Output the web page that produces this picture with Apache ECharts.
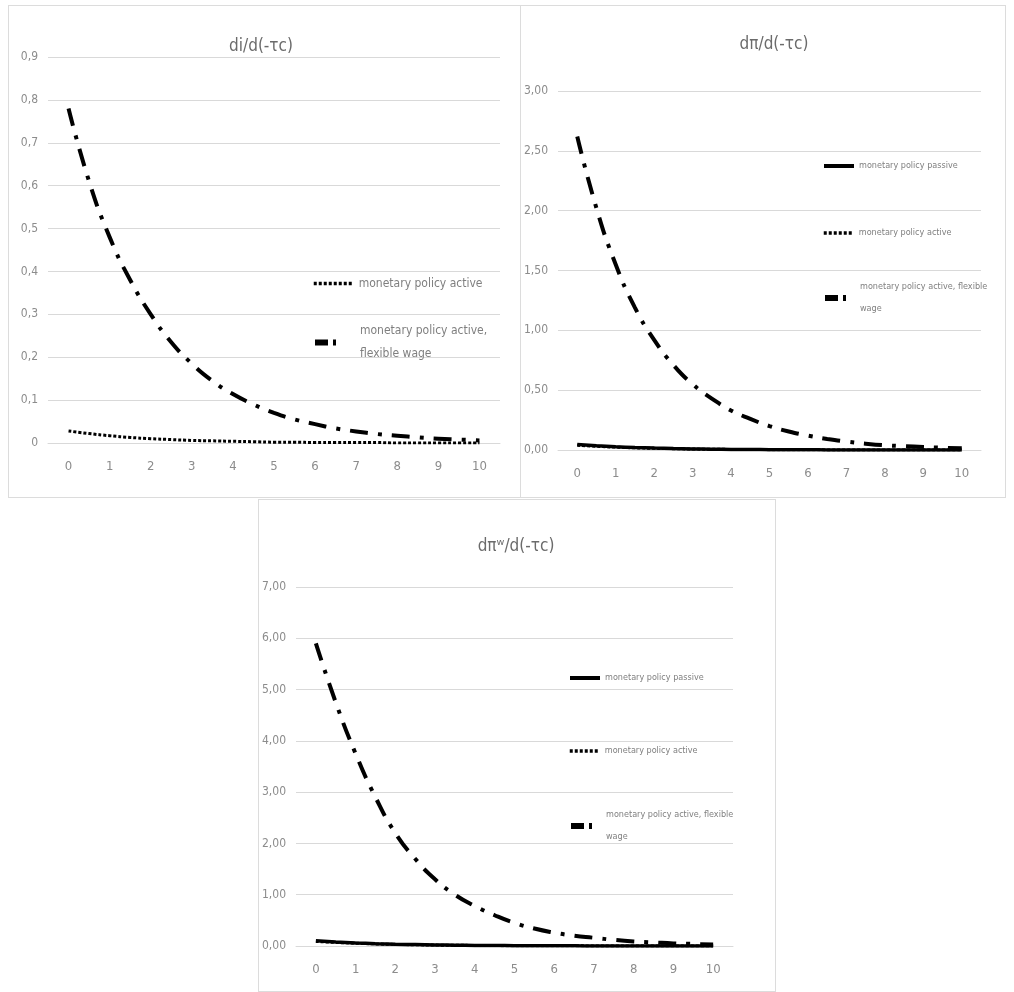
<!DOCTYPE html>
<html>
<head>
<meta charset="utf-8">
<script src="https://cdn.jsdelivr.net/npm/echarts@6/dist/echarts.min.js"></script>
<style>
  html, body { margin: 0; padding: 0; background: #ffffff; }
  body { width: 1014px; height: 992px; position: relative; overflow: hidden; }
  .panel { position: absolute; border: 1px solid #dcdcdc; box-sizing: border-box; background: #fff; }
</style>
</head>
<body>
<div id="p1" class="panel" style="left:8px;top:5px;width:513px;height:493px;"></div>
<div id="p2" class="panel" style="left:520px;top:5px;width:486px;height:493px;"></div>
<div id="p3" class="panel" style="left:258px;top:499px;width:518px;height:493px;"></div>
<script>
// horizon (quarters) and tick labels
const horizon = [0, 0.5, 1, 1.5, 2, 2.5, 3, 3.5, 4, 4.5, 5, 5.5, 6, 6.5, 7, 7.5, 8, 8.5, 9, 9.5, 10];
const xTicks = ['0', '1', '2', '3', '4', '5', '6', '7', '8', '9', '10'];

// di/d(-τc)
const iActive = [0.028, 0.022, 0.017, 0.013, 0.010, 0.008, 0.006, 0.005, 0.004, 0.003, 0.002, 0.002, 0.001, 0.001, 0.001, 0.001, 0, 0, 0, 0, 0];
const iFlex = [0.78, 0.61, 0.48, 0.38, 0.30, 0.235, 0.185, 0.145, 0.114, 0.09, 0.07, 0.055, 0.044, 0.034, 0.027, 0.021, 0.017, 0.013, 0.010, 0.008, 0.006];

// dπ/d(-τc)
const piPassive = [0.045, 0.035, 0.027, 0.021, 0.016, 0.012, 0.009, 0.007, 0.005, 0.004, 0.003, 0.002, 0.002, 0.001, 0.001, 0.001, 0.001, 0, 0, 0, 0];
const piActive = [0.040, 0.031, 0.024, 0.018, 0.014, 0.011, 0.008, 0.006, 0.005, 0.004, 0.003, 0.002, 0.002, 0.001, 0.001, 0.001, 0, 0, 0, 0, 0];
const piFlex = [2.62, 2.02, 1.55, 1.19, 0.92, 0.71, 0.55, 0.43, 0.33, 0.26, 0.20, 0.155, 0.12, 0.092, 0.07, 0.053, 0.04, 0.032, 0.025, 0.019, 0.015];

// dπʷ/d(-τc)
const piwPassive = [0.10, 0.078, 0.06, 0.046, 0.035, 0.027, 0.02, 0.016, 0.012, 0.009, 0.007, 0.005, 0.004, 0.003, 0.002, 0.002, 0.001, 0.001, 0.001, 0, 0];
const piwActive = [0.09, 0.07, 0.054, 0.041, 0.031, 0.024, 0.018, 0.014, 0.011, 0.008, 0.006, 0.005, 0.004, 0.003, 0.002, 0.001, 0.001, 0.001, 0, 0, 0];
const piwFlex = [5.9, 4.75, 3.75, 2.9, 2.2, 1.7, 1.3, 1.0, 0.78, 0.6, 0.45, 0.34, 0.26, 0.2, 0.16, 0.12, 0.09, 0.07, 0.05, 0.04, 0.03];

const NAME_PASSIVE = 'monetary policy passive';
const NAME_ACTIVE = 'monetary policy active';
const NAME_FLEX = 'monetary policy active, flexible wage';

// narrow face for all chart text
const FONT = "'DejaVu Sans', sans-serif";
const STRETCH = 'condensed';
const GRID_GREY = '#d9d9d9';
const LABEL_GREY = '#8c8c8c';

const pairs = vals => horizon.map((t, i) => [t, vals[i]]);

const styles = {
  passive: { color: '#000', width: 3.5, type: 'solid' },
  active: { color: '#000', width: 3, type: [3, 2] },
  flex: { color: '#000', width: 4, type: [18, 10, 4, 10] }
};

// legend swatches are drawn heavier than the plotted lines
const legendLines = {
  passive: { width: 4, type: 'solid' },
  active: { width: 3.5, type: [3, 2] },
  flex: { width: 6, type: [13, 5, 3, 40] }
};

function lineSeries(name, vals, style, z) {
  return {
    type: 'line', name: name, xAxisIndex: 1, yAxisIndex: 0,
    data: pairs(vals), smooth: true, symbol: 'none', z: z,
    lineStyle: { color: style.color, width: style.width, type: style.type, cap: 'butt' },
    itemStyle: { color: style.color },
    emphasis: { disabled: true }
  };
}

// one legend entry per component so each row sits at its own height;
// two-line labels get a top padding so the first line lines up with the icon
function legendItem(name, swatch, left, top, iconW, fontSize, lineH, twoLine, label) {
  return {
    data: [name], orient: 'vertical', left: left, top: top, padding: 0,
    itemWidth: iconW, itemHeight: 10, itemGap: 0, selectedMode: false,
    itemStyle: { color: 'rgba(0,0,0,0)', borderWidth: 0, opacity: 0 },
    lineStyle: { color: '#000', width: swatch.width, type: swatch.type, cap: 'butt' },
    formatter: () => label,
    textStyle: {
      fontFamily: FONT, fontStyle: STRETCH, fontSize: fontSize, color: '#7f7f7f', lineHeight: lineH,
      padding: twoLine ? [lineH, 0, 0, 0] : 0
    }
  };
}

function panel(el, cfg) {
  const chart = echarts.init(document.getElementById(el), null, { renderer: 'canvas' });
  chart.setOption({
    animation: false,
    backgroundColor: '#ffffff',
    title: {
      text: cfg.title, left: cfg.titleLeft, top: cfg.titleTop,
      textAlign: 'center',
      textStyle: { fontFamily: FONT, fontStyle: STRETCH, fontSize: 17, fontWeight: 'normal', color: '#6b6b6b' }
    },
    grid: { left: cfg.grid.left, top: cfg.grid.top, width: cfg.grid.width, height: cfg.grid.height },
    xAxis: [
      {
        type: 'category', data: xTicks, boundaryGap: true,
        axisLine: { show: true, lineStyle: { color: GRID_GREY, width: 1 } },
        axisTick: { show: false },
        axisLabel: { color: LABEL_GREY, fontFamily: FONT, fontStyle: STRETCH, fontSize: 13, margin: 17 },
        splitLine: { show: false }
      },
      { type: 'value', min: -0.5, max: 10.5, show: false }
    ],
    yAxis: {
      type: 'value', min: 0, max: cfg.yMax, interval: cfg.yStep,
      axisLine: { show: false }, axisTick: { show: false },
      axisLabel: {
        color: LABEL_GREY, fontFamily: FONT, fontStyle: STRETCH, fontSize: 12, margin: cfg.yLabelMargin,
        formatter: cfg.yFmt
      },
      splitLine: { lineStyle: { color: GRID_GREY, width: 1 } }
    },
    legend: cfg.legends,
    series: cfg.series
  });
}

const fmt1 = v => (v === 0 ? '0' : v.toFixed(1).replace('.', ','));
const fmt2 = v => v.toFixed(2).replace('.', ',');

panel('p1', {
  title: 'di/d(-τc)', titleLeft: 247, titleTop: 27,
  grid: { left: 39, top: 51, width: 452, height: 386 },
  yMax: 0.9, yStep: 0.1, yFmt: fmt1, yLabelMargin: 10,
  legends: [
    legendItem(NAME_ACTIVE, legendLines.active, 303, 266, 40, 12, 23, false, 'monetary policy active'),
    legendItem(NAME_FLEX, legendLines.flex, 303, 302, 40, 12, 23, true, 'monetary policy active,\nflexible wage')
  ],
  series: [
    lineSeries(NAME_ACTIVE, iActive, styles.active, 3),
    lineSeries(NAME_FLEX, iFlex, styles.flex, 4)
  ]
});

panel('p2', {
  title: 'dπ/d(-τc)', titleLeft: 248, titleTop: 25,
  grid: { left: 37, top: 85, width: 423, height: 359 },
  yMax: 3, yStep: 0.5, yFmt: fmt2, yLabelMargin: 10,
  legends: [
    legendItem(NAME_PASSIVE, legendLines.passive, 301, 149, 30, 9, 22, false, 'monetary policy passive'),
    legendItem(NAME_ACTIVE, legendLines.active, 301, 216, 30, 9, 22, false, 'monetary policy active'),
    legendItem(NAME_FLEX, legendLines.flex, 301, 259, 30, 9, 22, true, 'monetary policy active, flexible\nwage')
  ],
  series: [
    lineSeries(NAME_ACTIVE, piActive, styles.active, 3),
    lineSeries(NAME_PASSIVE, piPassive, styles.passive, 4),
    lineSeries(NAME_FLEX, piFlex, styles.flex, 5)
  ]
});

panel('p3', {
  title: 'dπʷ/d(-τc)', titleLeft: 252, titleTop: 33,
  grid: { left: 35, top: 87, width: 439, height: 359 },
  yMax: 7, yStep: 1, yFmt: fmt2, yLabelMargin: 10,
  legends: [
    legendItem(NAME_PASSIVE, legendLines.passive, 309, 167, 30, 9, 22, false, 'monetary policy passive'),
    legendItem(NAME_ACTIVE, legendLines.active, 309, 240, 30, 9, 22, false, 'monetary policy active'),
    legendItem(NAME_FLEX, legendLines.flex, 309, 293, 30, 9, 22, true, 'monetary policy active, flexible\nwage')
  ],
  series: [
    lineSeries(NAME_ACTIVE, piwActive, styles.active, 3),
    lineSeries(NAME_PASSIVE, piwPassive, styles.passive, 4),
    lineSeries(NAME_FLEX, piwFlex, styles.flex, 5)
  ]
});
</script>
</body>
</html>
